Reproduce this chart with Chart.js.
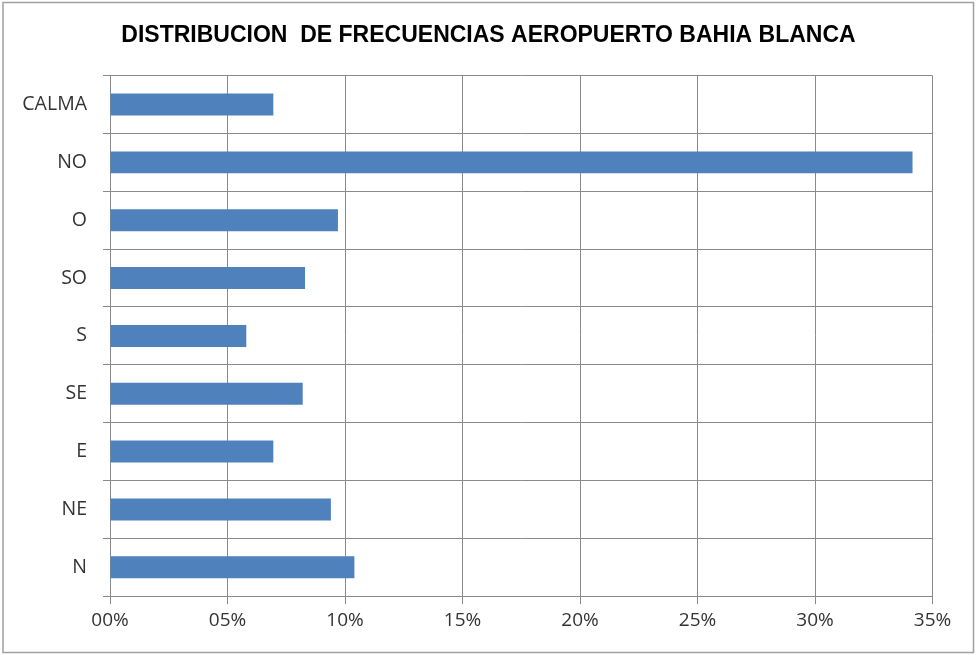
<!DOCTYPE html>
<html>
<head>
<meta charset="utf-8">
<script src="https://cdn.jsdelivr.net/npm/chart.js@4/dist/chart.umd.min.js"></script>
<style>
  html, body { margin: 0; padding: 0; background: #fff; }
  #wrap { width: 977px; height: 655px; }
</style>
</head>
<body>
<div id="wrap"><canvas id="myChart"></canvas></div>
<script>
const labels = ["CALMA", "NO", "O", "SO", "S", "SE", "E", "NE", "N"];
const values = [6.95, 34.15, 9.7, 8.3, 5.8, 8.2, 6.95, 9.4, 10.4];
const tickLabels = ["00%", "05%", "10%", "15%", "20%", "25%", "30%", "35%"];

const frame = {
  id: "frame",
  afterDraw(chart) {
    const ctx = chart.ctx;
    ctx.save();
    ctx.strokeStyle = "#a0a0a0";
    ctx.lineWidth = 1.5;
    ctx.strokeRect(3, 2.5, 970.5, 650);
    ctx.restore();
  },
};

const data = {
  labels: labels,
  datasets: [
    {
      data: values,
      backgroundColor: "#4f81bd",
      borderWidth: 0,
      barPercentage: 0.38,
      categoryPercentage: 1,
    },
  ],
};

const config = {
  type: "bar",
  data: data,
  plugins: [frame],
  options: {
    indexAxis: "y",
    responsive: true,
    maintainAspectRatio: false,
    animation: false,
    layout: {
      padding: { left: 0, right: 0, top: 0, bottom: 18 },
    },
    plugins: {
      legend: { display: false },
      tooltip: { enabled: false },
      title: {
        display: true,
        text: "DISTRIBUCION  DE FRECUENCIAS AEROPUERTO BAHIA BLANCA",
        color: "#000",
        font: { family: "Liberation Sans", size: 23, weight: "bold" },
        padding: { top: 22, bottom: 26 },
      },
    },
    scales: {
      x: {
        min: 0,
        max: 35,
        ticks: {
          stepSize: 5,
          color: "#333",
          font: { family: "Open Sans", size: 19 },
          padding: 5,
          maxRotation: 0,
          callback: (v, i) => tickLabels[i],
        },
        grid: { color: "#8a8a8a", lineWidth: 1, tickLength: 8 },
        border: { color: "#8a8a8a" },
      },
      y: {
        ticks: {
          color: "#333",
          font: { family: "Open Sans", size: 19.5 },
          padding: 16,
        },
        grid: { color: "#8a8a8a", lineWidth: 1, tickLength: 7 },
        border: { color: "#8a8a8a" },
        afterFit(scale) {
          scale.width = 110;
        },
      },
      yRight: {
        position: "right",
        ticks: { display: false },
        grid: { display: false },
        border: { display: false },
        afterFit(scale) {
          scale.width = 44.5;
        },
      },
    },
  },
};

const myChart = new Chart(document.getElementById("myChart"), config);
</script>
</body>
</html>
